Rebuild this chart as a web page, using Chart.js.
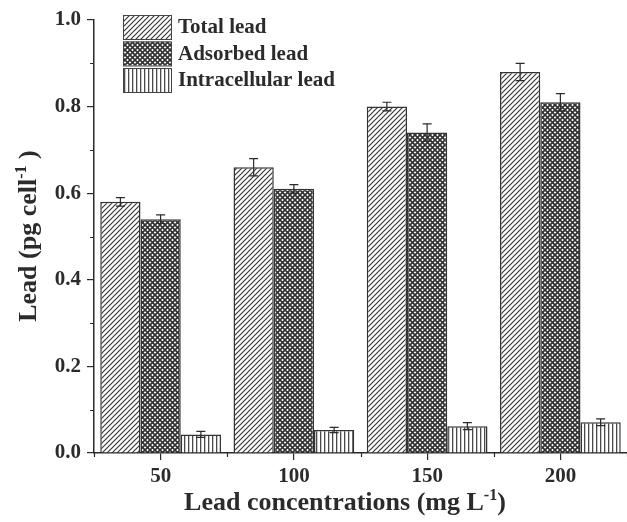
<!DOCTYPE html>
<html>
<head>
<meta charset="utf-8">
<script src="https://cdn.jsdelivr.net/npm/chart.js@4"></script>
<style>
  body { margin: 0; background: #fff; }
  canvas { display: block; }
</style>
</head>
<body>
<canvas id="leadChart" width="627" height="522"></canvas>
<script>
// Data
const concentrations = ["50", "100", "150", "200"];
const totalLead = [0.58, 0.66, 0.80, 0.88];
const totalErr = [0.01, 0.02, 0.01, 0.02];
const adsorbedLead = [0.54, 0.61, 0.74, 0.81];
const adsorbedErr = [0.01, 0.01, 0.02, 0.02];
const intraLead = [0.043, 0.053, 0.062, 0.071];
const intraErr = [0.007, 0.006, 0.008, 0.008];
const yTicks = [0, 0.2, 0.4, 0.6, 0.8, 1.0];

const FONT = "'Liberation Serif', 'Times New Roman', serif";
const INK = "#2b2b2b";

// Hatch fills
function makePattern(kind) {
  const c = document.createElement("canvas");
  const g = c.getContext("2d");
  if (kind === "diag") {
    c.width = c.height = 5;
    g.fillStyle = "#fff";
    g.fillRect(0, 0, 5, 5);
    g.strokeStyle = "#383838";
    g.lineWidth = 1.2;
    g.beginPath();
    g.moveTo(-1, 6); g.lineTo(6, -1);
    g.moveTo(-1, 1); g.lineTo(1, -1);
    g.moveTo(4, 6); g.lineTo(6, 4);
    g.stroke();
  } else if (kind === "cross") {
    c.width = c.height = 5;
    g.fillStyle = "#fff";
    g.fillRect(0, 0, 5, 5);
    g.strokeStyle = "#333";
    g.lineWidth = 1.7;
    g.beginPath();
    g.moveTo(-1, -1); g.lineTo(6, 6);
    g.moveTo(6, -1); g.lineTo(-1, 6);
    g.stroke();
  } else {
    c.width = 4; c.height = 4;
    g.fillStyle = "#fff";
    g.fillRect(0, 0, 4, 4);
    g.fillStyle = "#4a4a4a";
    g.fillRect(0, 0, 1.3, 4);
  }
  return g.createPattern(c, "repeat");
}

const errors = [totalErr, adsorbedErr, intraErr];

// error bars on top of each bar
const errorBars = {
  id: "errorBars",
  afterDatasetsDraw(chart) {
    const ctx = chart.ctx;
    const y = chart.scales.y;
    ctx.save();
    ctx.strokeStyle = INK;
    ctx.lineWidth = 1.2;
    chart.data.datasets.forEach((ds, i) => {
      const meta = chart.getDatasetMeta(i);
      meta.data.forEach((bar, j) => {
        const v = ds.data[j], e = errors[i][j];
        const top = y.getPixelForValue(v + e);
        const bot = y.getPixelForValue(v - e);
        const x = bar.x;
        ctx.beginPath();
        ctx.moveTo(x, top); ctx.lineTo(x, bot);
        ctx.moveTo(x - 4.5, top); ctx.lineTo(x + 4.5, top);
        ctx.moveTo(x - 4.5, bot); ctx.lineTo(x + 4.5, bot);
        ctx.stroke();
      });
    });
    ctx.restore();
  }
};

// minor ticks, legend and axis titles (with superscripts)
function drawSup(ctx, parts, x, y, size) {
  // parts: [[text, isSup], ...], drawn centered at x
  let w = 0;
  parts.forEach(([t, sup]) => {
    ctx.font = "bold " + (sup ? size * 0.62 : size) + "px " + FONT;
    w += ctx.measureText(t).width;
  });
  let cx = x - w / 2;
  parts.forEach(([t, sup]) => {
    ctx.font = "bold " + (sup ? size * 0.62 : size) + "px " + FONT;
    ctx.fillText(t, cx, sup ? y - size * 0.38 : y);
    cx += ctx.measureText(t).width;
  });
}

const decorations = {
  id: "decorations",
  afterDraw(chart) {
    const ctx = chart.ctx;
    const { x: xs, y: ys } = chart.scales;
    const area = chart.chartArea;
    ctx.save();
    ctx.strokeStyle = INK;
    ctx.lineWidth = 1.2;
    ctx.beginPath();
    // minor y ticks
    for (let k = 1; k < 10; k += 2) {
      const py = Math.round(ys.getPixelForValue(k / 10)) + 0.5;
      ctx.moveTo(area.left - 4, py); ctx.lineTo(area.left, py);
    }
    // minor x ticks at category boundaries
    for (let k = 0; k <= concentrations.length; k++) {
      const px = Math.round(xs.getPixelForValue(k - 0.5)) + 0.5;
      ctx.moveTo(px, area.bottom); ctx.lineTo(px, area.bottom + 4);
    }
    ctx.stroke();

    // legend
    ctx.textBaseline = "middle";
    ctx.textAlign = "left";
    chart.data.datasets.forEach((ds, i) => {
      const top = 15 + i * 26.5;
      ctx.fillStyle = ds.backgroundColor;
      ctx.fillRect(123, top, 48, 24);
      ctx.strokeStyle = "#444";
      ctx.lineWidth = 1;
      ctx.strokeRect(123.5, top + 0.5, 48, 24);
      ctx.fillStyle = INK;
      ctx.font = "bold 21px " + FONT;
      ctx.fillText(ds.label, 178, top + 13);
    });

    // axis titles
    ctx.textBaseline = "alphabetic";
    ctx.textAlign = "left";
    ctx.fillStyle = INK;
    drawSup(ctx, [["Lead concentrations (mg L", false], ["-1", true], [")", false]], 345, 510, 26);
    ctx.translate(36, 236);
    ctx.rotate(-Math.PI / 2);
    drawSup(ctx, [["Lead (pg cell", false], ["-1", true], [" )", false]], 0, 0, 26);
    ctx.restore();
  }
};

const ctx = document.getElementById("leadChart").getContext("2d");

new Chart(ctx, {
  type: "bar",
  data: {
    labels: concentrations,
    datasets: [
      { label: "Total lead", data: totalLead, backgroundColor: makePattern("diag") },
      { label: "Adsorbed lead", data: adsorbedLead, backgroundColor: makePattern("cross") },
      { label: "Intracellular lead", data: intraLead, backgroundColor: makePattern("vert") },
    ].map(d => Object.assign(d, {
      borderColor: "#333",
      borderWidth: 1.5,
      borderSkipped: "bottom",
      categoryPercentage: 0.906,
      barPercentage: 1.0,
    })),
  },
  options: {
    responsive: false,
    animation: false,
    layout: { padding: { top: 20, left: 0, right: 0, bottom: 0 } },
    plugins: { legend: { display: false }, tooltip: { enabled: false } },
    scales: {
      x: {
        offset: true,
        grid: { display: true, offset: false, drawOnChartArea: false, tickLength: 7, color: INK, lineWidth: 1.2 },
        border: { display: true, color: INK, width: 1.5 },
        ticks: { color: INK, padding: 4, font: { family: FONT, size: 21, weight: "bold" } },
        afterFit: s => { s.height = 69; },
      },
      y: {
        min: 0,
        max: 1,
        afterBuildTicks: s => { s.ticks = yTicks.map(v => ({ value: v })); },
        grid: { display: true, drawOnChartArea: false, tickLength: 7, color: INK, lineWidth: 1.2 },
        border: { display: true, color: INK, width: 1.5 },
        ticks: {
          color: INK,
          padding: 6,
          font: { family: FONT, size: 21, weight: "bold" },
          callback: v => v.toFixed(1),
        },
        afterFit: s => { s.width = 94; },
      },
    },
  },
  plugins: [errorBars, decorations],
});
</script>
</body>
</html>
